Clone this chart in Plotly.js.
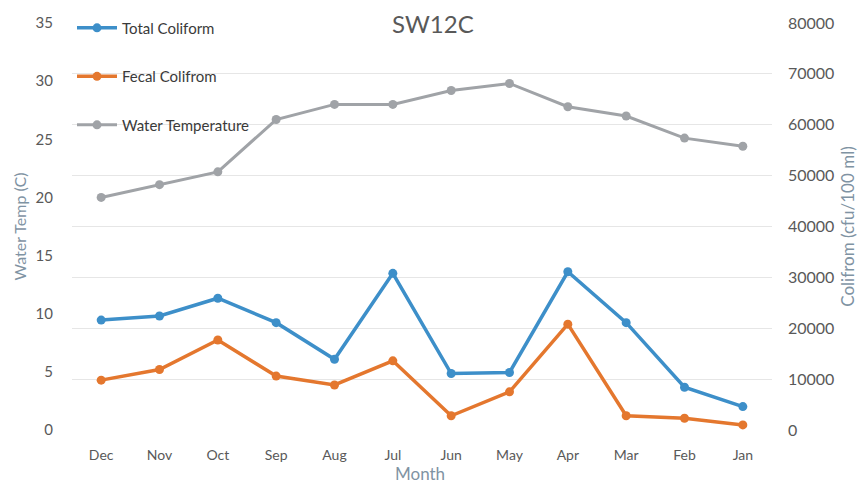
<!DOCTYPE html>
<html>
<head>
<meta charset="utf-8">
<script src="https://cdn.plot.ly/plotly-3.0.1.min.js"></script>
<style>html,body{margin:0;padding:0;background:#fff;}#chart{width:864px;height:485px;}</style>
</head>
<body>
<div id="chart"></div>
<script>
const months = ["Dec","Nov","Oct","Sep","Aug","Jul","Jun","May","Apr","Mar","Feb","Jan"];
const totalColiform = [21600,22400,25900,21100,13900,30800,11100,11300,31100,21100,8400,4600];
const fecalColiform = [9800,11900,17700,10600,8850,13600,2800,7500,20800,2800,2300,1000];
const waterTemp = [20.0,21.1,22.2,26.7,28.0,28.0,29.2,29.8,27.8,27.0,25.1,24.4];

const FONT = "Lato, 'Open Sans', sans-serif";
const traces = [
  {x: months, y: totalColiform, name: "Total Coliform", yaxis: "y2", type: "scatter", mode: "lines+markers",
   line: {color: "#3d8fc9", width: 3.5}, marker: {color: "#3d8fc9", size: 9}, legendgroup: "a"},
  {x: months, y: fecalColiform, name: "Fecal Colifrom", yaxis: "y2", type: "scatter", mode: "lines+markers",
   line: {color: "#e4772e", width: 3.5}, marker: {color: "#e4772e", size: 9}, legendgroup: "b"},
  {x: months, y: waterTemp, name: "Water Temperature", yaxis: "y", type: "scatter", mode: "lines+markers",
   line: {color: "#a0a3a7", width: 3}, marker: {color: "#a0a3a7", size: 9}, legendgroup: "c"}
];

const layout = {
  width: 864, height: 485,
  margin: {l: 72, r: 92, t: 23, b: 55, autoexpand: false},
  paper_bgcolor: "#ffffff", plot_bgcolor: "#ffffff",
  font: {family: FONT, color: "#595959", size: 13},
  showlegend: true,
  legend: {x: 0.0, y: 1.028, xanchor: "left", yanchor: "top", bgcolor: "rgba(0,0,0,0)", itemwidth: 40,
           font: {family: FONT, size: 15, color: "#3a3a3a"}, tracegroupgap: 26, traceorder: "grouped"},
  xaxis: {type: "category", range: [-0.5, 11.5], showgrid: false, zeroline: false, showline: false, ticks: "", automargin: false,
          ticklabelstandoff: 15, tickfont: {family: FONT, size: 14, color: "#595959"}},
  yaxis: {range: [0, 35], dtick: 5, showgrid: false, zeroline: false, showline: false, ticks: "", automargin: false,
          ticklabelstandoff: 18, tickfont: {family: FONT, size: 15, color: "#595959"},
          title: {text: "Water Temp (C)", standoff: 4, font: {family: FONT, size: 16, color: "#7f93a3"}}},
  yaxis2: {range: [0, 80000], dtick: 10000, tickformat: "d", overlaying: "y", side: "right", showgrid: true,
           gridcolor: "#e6e6e6", gridwidth: 1, zeroline: false, showline: false, ticks: "", automargin: false,
           ticklabelstandoff: 15, tickfont: {family: FONT, size: 16, color: "#595959"},
           title: {text: "Colifrom (cfu/100 ml)", standoff: 8, font: {family: FONT, size: 17, color: "#7f93a3"}}},
  annotations: [
    {text: "SW12C", xref: "paper", yref: "paper", x: 0.516, y: 1.0, xanchor: "center", yanchor: "middle",
     showarrow: false, bgcolor: "#ffffff", font: {family: FONT, size: 24, color: "#595959"}},
    {text: "Month", xref: "paper", yref: "paper", x: 0.497, y: -0.1340, xanchor: "center", yanchor: "bottom",
     borderpad: 0, showarrow: false, font: {family: FONT, size: 17, color: "#7f93a3"}}
  ]
};

Plotly.newPlot("chart", traces, layout, {displayModeBar: false, staticPlot: true});
</script>
</body>
</html>
